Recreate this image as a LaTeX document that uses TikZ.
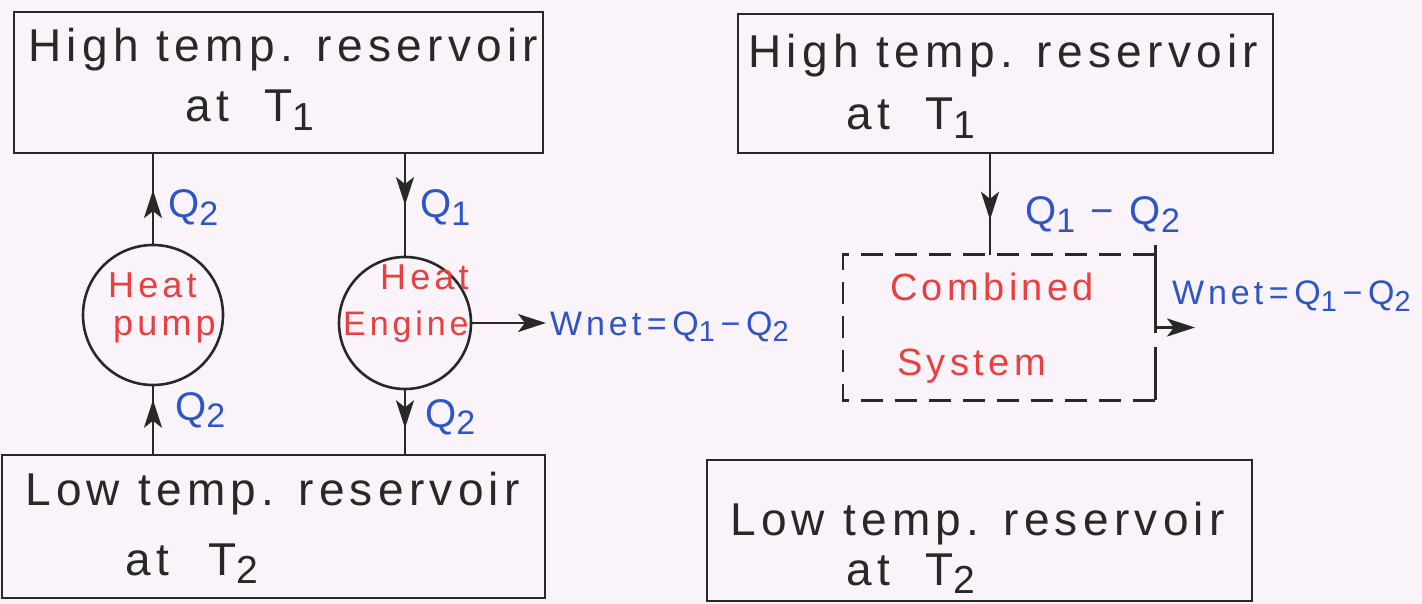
\documentclass[tikz,border=0pt]{standalone}
\usepackage{graphicx}
\usepackage{fontspec}
\setmainfont{Liberation Sans}[LetterSpace=11.5]
\usetikzlibrary{arrows.meta,decorations.markings}
\definecolor{bg}{RGB}{250,243,250}
\definecolor{ink}{RGB}{40,40,40}
\definecolor{redink}{RGB}{232,64,64}
\definecolor{blueink}{RGB}{45,85,200}
\newcommand{\mysub}[1]{\raisebox{-0.35ex}{\scalebox{0.85}{#1}}}
\tikzset{bigtip/.tip={Stealth[length=28pt,width=18pt,inset=7pt]}}
\begin{document}
\begin{tikzpicture}[x=1pt,y=-1pt,
  res/.style={draw=ink,line width=2.8pt,rectangle,inner sep=0pt},
  machine/.style={draw=ink,line width=2.6pt,circle,inner sep=0pt},
  btxt/.style={text=ink,font=\fontsize{46}{50}\selectfont,inner sep=0pt,anchor=base west},
  rtxt/.style={text=redink,font=\fontsize{36}{40}\selectfont,inner sep=0pt,anchor=base west},
  qtxt/.style={text=blueink,font=\fontsize{40}{44}\selectfont,inner sep=0pt,anchor=base west},
  flow/.style={draw=ink,line width=2.6pt},
  midarrow/.style={postaction={decorate},decoration={markings,mark=at position #1 with {\arrow[ink]{bigtip}}}},
  tipend/.style={-bigtip},
]
\useasboundingbox (0,0) rectangle (1422,604);
\fill[bg] (0,0) rectangle (1422,604);

% reservoirs
\node[res,minimum width=529pt,minimum height=141pt] (h1) at (278.5,82.5) {};
\node[res,minimum width=543pt,minimum height=143pt] (l1) at (273.5,526.5) {};
\node[res,minimum width=535pt,minimum height=139pt] (h2) at (1005.5,83.5) {};
\node[res,minimum width=545pt,minimum height=141pt] (l2) at (979.5,530.5) {};

\node[btxt] (h1a) at (28,62) {High temp. reservoir};
\node[btxt] (h1b) at (185,122) {at\hspace{36pt}T\mysub{1}};
\node[btxt] (l1a) at (25,505) {Low temp. reservoir};
\node[btxt] (l1b) at (125,575) {at\hspace{40pt}T\mysub{2}};
\node[btxt] (h2a) at (748,68) {High temp. reservoir};
\node[btxt] (h2b) at (846,130) {at\hspace{36pt}T\mysub{1}};
\node[btxt] (l2a) at (730,535) {Low temp. reservoir};
\node[btxt] (l2b) at (846,585) {at\hspace{36pt}T\mysub{2}};

% machines
\node[machine,minimum size=140pt] (hp) at (153,315) {};
\node[machine,minimum size=132pt] (he) at (405,323) {};
\node[rtxt] (hpa) at (108,297) {Heat};
\node[rtxt] (hpb) at (113,335) {pump};
\node[rtxt] (hea) at (380,290) {Heat};
\node[rtxt,font=\fontsize{34}{38}\selectfont] (heb) at (343,335) {Engine};

% left flows
\draw[flow,midarrow=0.6] (hp.north) -- (hp.north |- h1.south);
\draw[flow,midarrow=0.8] (l1.north -| hp.south) -- (hp.south);
\draw[flow,midarrow=0.5] (h1.south -| he.north) -- (he.north);
\draw[flow,midarrow=0.6] (he.south) -- (he.south |- l1.north);
\coordinate (w1) at (546,323);
\draw[flow,tipend] (he.east) -- (w1);

\node[qtxt] (q2a) at (168,218) {Q\mysub{2}};
\node[qtxt] (q1a) at (420,218) {Q\mysub{1}};
\node[qtxt] (q2b) at (175,420) {Q\mysub{2}};
\node[qtxt] (q2c) at (425,427) {Q\mysub{2}};
\node[qtxt,font=\fontsize{34}{38}\selectfont] (wa) at (550,335) {Wnet\,=\,Q\mysub{1}\,−\,Q\mysub{2}};

% combined system
\node[minimum width=312pt,minimum height=145pt,inner sep=0pt] (comb) at (999,327.5) {};
\draw[ink,line width=2.6pt,dash pattern=on 22pt off 12pt] (comb.north east) -- (comb.north west) -- (comb.south west) -- (comb.south east);
\draw[ink,line width=2.6pt] ([yshift=10pt]comb.north east) -- ([yshift=-5pt]comb.east);
\draw[ink,line width=2.6pt] ([yshift=-19pt]comb.east) -- (comb.south east);
\node[rtxt,font=\fontsize{38}{42}\selectfont] (ca) at (890,300) {Combined};
\node[rtxt,font=\fontsize{38}{42}\selectfont] (cb) at (897,375) {System};

\coordinate (c1) at (990,255);
\draw[flow,midarrow=0.65] (h2.south -| c1) -- (c1);
\coordinate (w2) at (1195,327.5);
\draw[flow,tipend] (comb.east) -- (w2);
\node[qtxt] (q12) at (1025,225) {Q\mysub{1} − Q\mysub{2}};
\node[qtxt,font=\fontsize{34}{38}\selectfont] (wb) at (1172,305) {Wnet\,=\,Q\mysub{1}\,−\,Q\mysub{2}};
\end{tikzpicture}
\end{document}
